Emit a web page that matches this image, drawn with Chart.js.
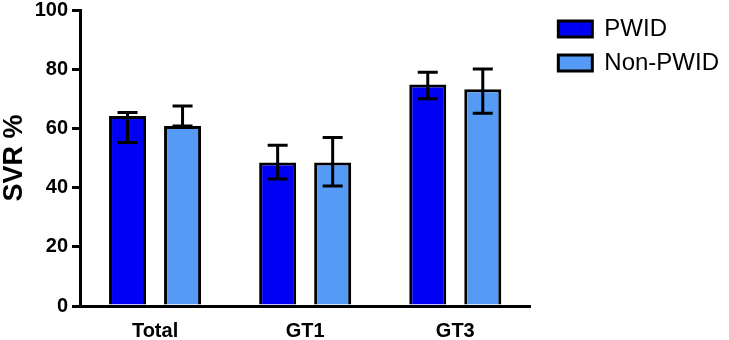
<!DOCTYPE html>
<html>
<head>
<meta charset="utf-8">
<script src="https://cdn.jsdelivr.net/npm/chart.js@4/dist/chart.umd.min.js"></script>
<style>
  html, body { margin: 0; padding: 0; background: #fff; }
  #wrap { width: 729px; height: 340px; }
</style>
</head>
<body>
<div id="wrap"><canvas id="svrChart" width="729" height="340"></canvas></div>
<script>
const groups = ["Total", "GT1", "GT3"];
const yTicks = [0, 20, 40, 60, 80, 100];

const pwid = [64.2, 48.5, 74.8];
const pwidLow = [55.2, 42.9, 70.0];
const pwidHigh = [65.4, 54.3, 79.0];

const nonPwid = [60.8, 48.5, 73.2];
const nonPwidLow = [60.8, 40.5, 65.1];
const nonPwidHigh = [67.6, 56.9, 80.1];

// error bars, drawn from the bar elements and the y scale
const errorBars = {
  id: "errorBars",
  afterDatasetsDraw(chart) {
    const ctx = chart.ctx;
    const y = chart.scales.y;
    ctx.save();
    ctx.strokeStyle = "#000";
    ctx.lineWidth = 3;
    chart.data.datasets.forEach((ds, i) => {
      chart.getDatasetMeta(i).data.forEach((bar, j) => {
        const top = y.getPixelForValue(ds.errHigh[j]);
        const bot = y.getPixelForValue(ds.errLow[j]);
        const cap = 10;
        ctx.beginPath();
        ctx.moveTo(bar.x, top);
        ctx.lineTo(bar.x, bot);
        ctx.moveTo(bar.x - cap, top);
        ctx.lineTo(bar.x + cap, top);
        ctx.moveTo(bar.x - cap, bot);
        ctx.lineTo(bar.x + cap, bot);
        ctx.stroke();
      });
    });
    ctx.restore();
  }
};

const ctx = document.getElementById("svrChart").getContext("2d");
new Chart(ctx, {
  type: "bar",
  data: {
    labels: groups,
    datasets: [
      { label: "PWID", data: pwid, errLow: pwidLow, errHigh: pwidHigh,
        backgroundColor: "#0000F5", borderColor: "#000", borderWidth: 3 },
      { label: "Non-PWID", data: nonPwid, errLow: nonPwidLow, errHigh: nonPwidHigh,
        backgroundColor: "#559BF5", borderColor: "#000", borderWidth: 3 }
    ]
  },
  options: {
    responsive: false,
    animation: false,
    devicePixelRatio: 1,
    layout: { padding: { top: 7, right: 0, bottom: 0, left: 0 } },
    datasets: { bar: { categoryPercentage: 0.733, barPercentage: 0.673, borderSkipped: "start" } },
    plugins: {
      tooltip: { enabled: false },
      legend: {
        position: "right",
        align: "start",
        maxWidth: 220,
        labels: {
          boxWidth: 34,
          boxHeight: 16,
          padding: 10,
          color: "#000",
          font: { family: "'Liberation Sans', Arial, sans-serif", size: 24 }
        }
      }
    },
    scales: {
      x: {
        grid: { display: false, drawTicks: false },
        border: { display: true, color: "#000", width: 3 },
        ticks: {
          color: "#000",
          padding: 13,
          font: { family: "'Liberation Sans', Arial, sans-serif", size: 20, weight: "bold" }
        },
        afterFit(s) { s.height = 34; }
      },
      y: {
        min: 0,
        max: 100,
        afterBuildTicks(s) { s.ticks = yTicks.map(v => ({ value: v })); },
        grid: { drawOnChartArea: false, drawTicks: true, tickLength: 8, color: "#000", lineWidth: 3 },
        border: { display: true, color: "#000", width: 3 },
        ticks: {
          color: "#000",
          padding: 4,
          font: { family: "'Liberation Sans', Arial, sans-serif", size: 20, weight: "bold", lineHeight: 0.6 }
        },
        title: {
          display: true,
          text: "SVR %",
          color: "#000",
          padding: { top: 1, bottom: 0 },
          font: { family: "'Liberation Sans', Arial, sans-serif", size: 27, weight: "bold", lineHeight: 1 }
        },
        afterFit(s) { s.width = 80; }
      },
      gap: {
        position: "right",
        display: true,
        grid: { display: false, drawTicks: false },
        border: { display: false },
        ticks: { display: false },
        afterFit(s) { s.width = 18; }
      }
    }
  },
  plugins: [errorBars]
});
</script>
</body>
</html>
